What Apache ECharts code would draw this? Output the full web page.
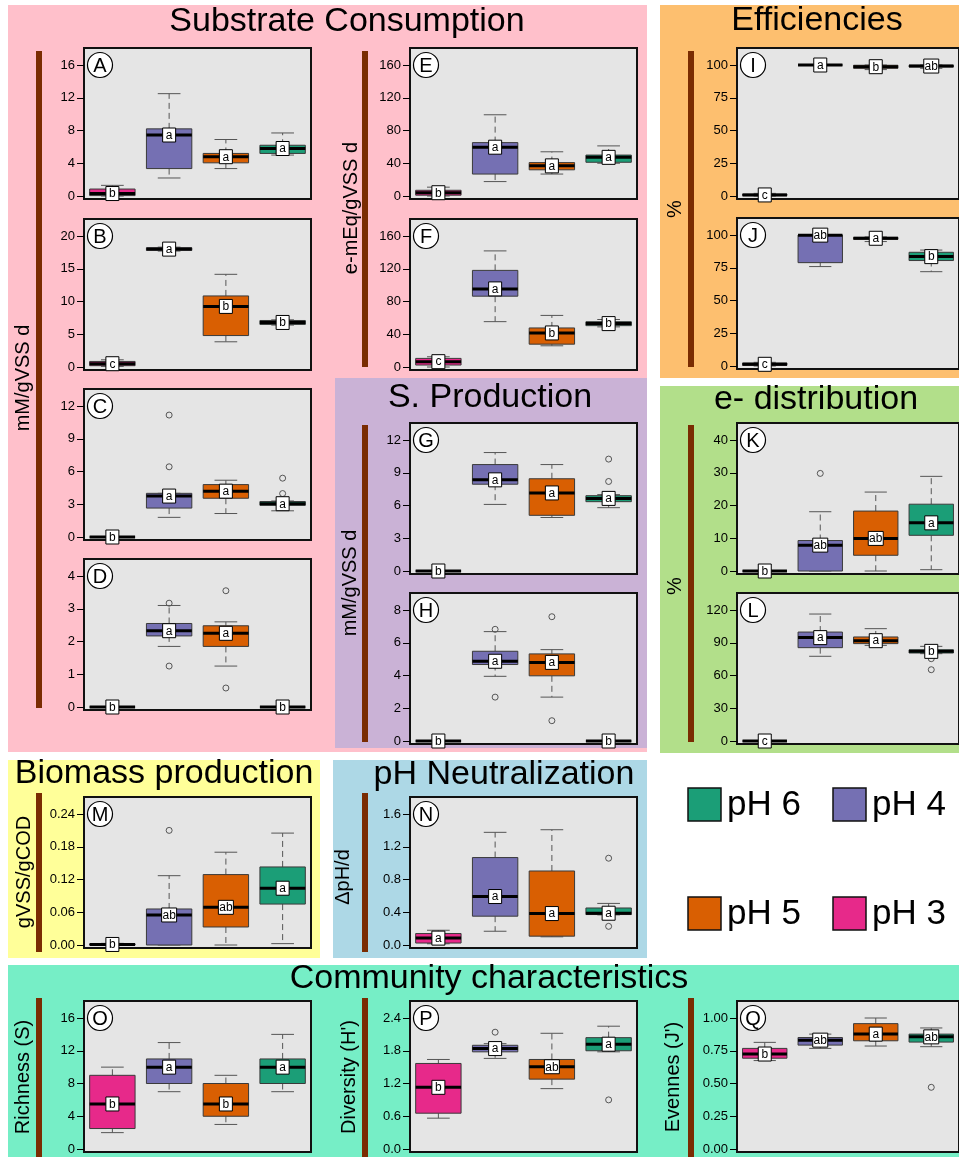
<!DOCTYPE html>
<html>
<head>
<meta charset="utf-8">
<script src="https://cdn.jsdelivr.net/npm/echarts@6/dist/echarts.min.js"></script>
<style>
  html, body { margin: 0; padding: 0; background: #fff; }
  #chart { width: 959px; height: 1157px; }
</style>
</head>
<body>
<div id="chart"></div>
<script>
// Treatment groups, left to right in every panel
const groups = ['pH 3', 'pH 4', 'pH 5', 'pH 6'];
const groupColors = ['#E7298A', '#7570B3', '#D95F02', '#1B9E77'];

// Box statistics per group: [lower whisker, Q1, median, Q3, upper whisker]
// Outliers: [group index, value]; letters: post-hoc grouping shown on each box

// A — substrate consumption
const boxA = [[0, 0.05, 0.3, 0.85, 1.3], [2.2, 3.35, 7.45, 8.2, 12.5], [3.35, 4.05, 4.8, 5.2, 6.9], [5.0, 5.2, 5.8, 6.2, 7.7]];
const lettersA = ['b', 'a', 'a', 'a'];
const outA = [];
const ticksA = ['0', '4', '8', '12', '16'];

// B
const boxB = [[0.1, 0.2, 0.5, 0.85, 1.1], [17.7, 17.8, 18.0, 18.2, 18.3], [3.85, 4.8, 9.25, 10.85, 14.15], [6.4, 6.5, 6.8, 7.1, 7.2]];
const lettersB = ['c', 'a', 'b', 'b'];
const outB = [];
const ticksB = ['0', '5', '10', '15', '20'];

// C
const boxC = [[0, 0, 0, 0, 0], [1.8, 2.65, 3.75, 4.0, 4.0], [2.15, 3.55, 4.2, 4.8, 5.2], [2.4, 2.9, 3.05, 3.25, 3.3]];
const lettersC = ['b', 'a', 'a', 'a'];
const outC = [[1, 6.43], [1, 11.17], [3, 3.98], [3, 5.39]];
const ticksC = ['0', '3', '6', '9', '12'];

// D
const boxD = [[0, 0, 0, 0, 0], [1.85, 2.17, 2.33, 2.55, 3.1], [1.25, 1.85, 2.25, 2.48, 2.6], [0, 0, 0, 0, 0]];
const lettersD = ['b', 'a', 'a', 'b'];
const outD = [[1, 3.17], [1, 1.25], [2, 3.55], [2, 0.58]];
const ticksD = ['0', '1', '2', '3', '4'];

// E
const boxE = [[0, 1, 4, 7, 10.8], [17.6, 26.8, 59.6, 65.2, 99.2], [26.8, 32, 36.8, 40.8, 54], [40, 41.2, 47.2, 50, 61.2]];
const lettersE = ['b', 'a', 'a', 'a'];
const outE = [];
const ticksE = ['0', '40', '80', '120', '160'];

// F
const boxF = [[0, 2.4, 6.5, 10.5, 12.5], [55.4, 86.5, 95.4, 118, 141.8], [25.9, 27.9, 41.6, 47.7, 63], [49, 50.5, 53, 55.3, 58]];
const lettersF = ['c', 'a', 'b', 'b'];
const outF = [];
const ticksF = ['0', '40', '80', '120', '160'];

// G — S. production
const boxG = [[0, 0, 0, 0, 0], [6.1, 7.95, 8.35, 9.75, 10.85], [4.9, 5.1, 7.15, 8.45, 9.75], [5.8, 6.35, 6.65, 6.9, 7.0]];
const lettersG = ['b', 'a', 'a', 'a'];
const outG = [[3, 8.2], [3, 10.25]];
const ticksG = ['0', '3', '6', '9', '12'];

// H
const boxH = [[0, 0, 0, 0, 0], [3.95, 4.67, 4.87, 5.48, 6.68], [2.68, 3.98, 4.8, 5.32, 5.58], [0, 0, 0, 0, 0]];
const lettersH = ['b', 'a', 'a', 'b'];
const outH = [[1, 6.82], [1, 2.68], [2, 7.59], [2, 1.24]];
const ticksH = ['0', '2', '4', '6', '8'];

// I — efficiencies
const boxI = [[0, 0.3, 0.8, 1.5, 2], [100, 100, 100, 100, 100], [96.5, 97.5, 98.7, 99.8, 100], [97.5, 98.5, 99.2, 99.8, 100]];
const lettersI = ['c', 'a', 'b', 'ab'];
const outI = [];
const ticksI = ['0', '25', '50', '75', '100'];

// J
const boxJ = [[0, 0.5, 1.3, 2.3, 2.8], [75.9, 78.9, 99.9, 100, 100], [95, 96.7, 97.5, 98.2, 98.5], [72, 80.5, 83.5, 86.8, 88.5]];
const lettersJ = ['c', 'ab', 'a', 'b'];
const outJ = [];
const ticksJ = ['0', '25', '50', '75', '100'];

// K — e- distribution
const boxK = [[0, 0, 0, 0, 0], [0, 0, 7.9, 9.3, 18.1], [0, 4.8, 9.95, 18.3, 24.1], [0.4, 10.9, 14.7, 20.4, 28.9]];
const lettersK = ['b', 'ab', 'ab', 'a'];
const outK = [[1, 29.8]];
const ticksK = ['0', '10', '20', '30', '40'];

// L
const boxL = [[0, 0, 0, 0, 0], [77.6, 85.5, 94.7, 99.8, 116.3], [87.6, 89.2, 91.9, 95.3, 102.9], [80, 80.6, 82.1, 83.5, 86.7]];
const lettersL = ['c', 'a', 'a', 'b'];
const outL = [[3, 75.4], [3, 65.3]];
const ticksL = ['0', '30', '60', '90', '120'];

// M — biomass production
const boxM = [[0, 0, 0.001, 0.002, 0.003], [0, 0, 0.055, 0.066, 0.127], [0, 0.033, 0.069, 0.129, 0.17], [0.0025, 0.075, 0.104, 0.143, 0.205]];
const lettersM = ['b', 'ab', 'ab', 'a'];
const outM = [[1, 0.21]];
const ticksM = ['0.00', '0.06', '0.12', '0.18', '0.24'];

// N — pH neutralization
const boxN = [[0.015, 0.024, 0.084, 0.14, 0.18], [0.168, 0.352, 0.592, 1.068, 1.376], [0.1, 0.108, 0.384, 0.904, 1.408], [0.368, 0.372, 0.388, 0.452, 0.508]];
const lettersN = ['a', 'a', 'a', 'a'];
const outN = [[3, 1.06], [3, 0.228]];
const ticksN = ['0.0', '0.4', '0.8', '1.2', '1.6'];

// O — community richness
const boxO = [[2, 2.5, 5.5, 9, 10], [7, 8, 10, 11, 13], [3, 4, 5.5, 8, 9], [7, 8, 10, 11, 14]];
const lettersO = ['b', 'a', 'b', 'a'];
const outO = [];
const ticksO = ['0', '4', '8', '12', '16'];

// P — diversity
const boxP = [[0.565, 0.656, 1.13, 1.567, 1.64], [1.66, 1.78, 1.84, 1.9, 1.93], [1.106, 1.28, 1.507, 1.64, 2.12], [1.78, 1.8, 1.92, 2.04, 2.25]];
const lettersP = ['b', 'a', 'ab', 'a'];
const outP = [[1, 2.14], [3, 0.9]];
const ticksP = ['0.0', '0.6', '1.2', '1.8', '2.4'];

// Q — evenness
const boxQ = [[0.675, 0.693, 0.725, 0.768, 0.814], [0.768, 0.793, 0.831, 0.851, 0.877], [0.786, 0.826, 0.877, 0.957, 1.0], [0.781, 0.816, 0.856, 0.877, 0.924]];
const lettersQ = ['b', 'ab', 'a', 'ab'];
const outQ = [[3, 0.471]];
const ticksQ = ['0.00', '0.25', '0.50', '0.75', '1.00'];

const FONT = '"Liberation Sans", Arial, Helvetica, sans-serif';
const PW = 227, PH = 151;

const panels = [
  { id: 'A', box: boxA, letters: lettersA, out: outA, ticks: ticksA, left: 84, top: 48 },
  { id: 'B', box: boxB, letters: lettersB, out: outB, ticks: ticksB, left: 84, top: 219 },
  { id: 'C', box: boxC, letters: lettersC, out: outC, ticks: ticksC, left: 84, top: 389 },
  { id: 'D', box: boxD, letters: lettersD, out: outD, ticks: ticksD, left: 84, top: 559 },
  { id: 'E', box: boxE, letters: lettersE, out: outE, ticks: ticksE, left: 410, top: 48 },
  { id: 'F', box: boxF, letters: lettersF, out: outF, ticks: ticksF, left: 410, top: 219 },
  { id: 'G', box: boxG, letters: lettersG, out: outG, ticks: ticksG, left: 410, top: 423 },
  { id: 'H', box: boxH, letters: lettersH, out: outH, ticks: ticksH, left: 410, top: 593 },
  { id: 'I', box: boxI, letters: lettersI, out: outI, ticks: ticksI, left: 737, top: 48 },
  { id: 'J', box: boxJ, letters: lettersJ, out: outJ, ticks: ticksJ, left: 737, top: 218 },
  { id: 'K', box: boxK, letters: lettersK, out: outK, ticks: ticksK, left: 737, top: 423 },
  { id: 'L', box: boxL, letters: lettersL, out: outL, ticks: ticksL, left: 737, top: 593 },
  { id: 'M', box: boxM, letters: lettersM, out: outM, ticks: ticksM, left: 84, top: 797 },
  { id: 'N', box: boxN, letters: lettersN, out: outN, ticks: ticksN, left: 410, top: 797 },
  { id: 'O', box: boxO, letters: lettersO, out: outO, ticks: ticksO, left: 84, top: 1001 },
  { id: 'P', box: boxP, letters: lettersP, out: outP, ticks: ticksP, left: 410, top: 1001 },
  { id: 'Q', box: boxQ, letters: lettersQ, out: outQ, ticks: ticksQ, left: 737, top: 1001 }
];

// Box-and-whisker glyph: dashed whiskers, solid staples, filled box, thick median, boxed letter
function makeBoxRenderer(letters) {
  return function (params, api) {
    const k = api.value(0);
    const yMin = api.coord([k, api.value(1)])[1];
    const yQ1 = api.coord([k, api.value(2)])[1];
    const yMed = api.coord([k, api.value(3)]);
    const yQ3 = api.coord([k, api.value(4)])[1];
    const yMax = api.coord([k, api.value(5)])[1];
    const cx = yMed[0];
    const bw = api.size([1, 0])[0] * 0.8;
    const sw = bw / 4;
    const letter = letters[params.dataIndex];
    const lw = letter.length > 1 ? 15 : 13;
    const wStyle = { stroke: '#555', lineWidth: 1, lineDash: [6, 4] };
    const sStyle = { stroke: '#555', lineWidth: 1 };
    return {
      type: 'group',
      children: [
        { type: 'line', shape: { x1: cx, y1: yQ3, x2: cx, y2: yMax }, style: wStyle },
        { type: 'line', shape: { x1: cx, y1: yQ1, x2: cx, y2: yMin }, style: wStyle },
        { type: 'line', shape: { x1: cx - sw, y1: yMax, x2: cx + sw, y2: yMax }, style: sStyle },
        { type: 'line', shape: { x1: cx - sw, y1: yMin, x2: cx + sw, y2: yMin }, style: sStyle },
        { type: 'rect', shape: { x: cx - bw / 2, y: yQ3, width: bw, height: yQ1 - yQ3 },
          style: { fill: groupColors[k], stroke: '#3a3a3a', lineWidth: 1 } },
        { type: 'line', shape: { x1: cx - bw / 2, y1: yMed[1], x2: cx + bw / 2, y2: yMed[1] },
          style: { stroke: '#000', lineWidth: 3 } },
        { type: 'rect', shape: { x: cx - lw / 2, y: yMed[1] - 7, width: lw, height: 14 },
          style: { fill: '#fff', stroke: '#000', lineWidth: 1 } },
        { type: 'text', x: cx, y: yMed[1] + 0.5,
          style: { text: letter, font: '12px ' + FONT, fill: '#000', align: 'center', verticalAlign: 'middle',
                   textAlign: 'center', textVerticalAlign: 'middle' } }
      ]
    };
  };
}

const grids = [], xAxes = [], yAxes = [], series = [];
panels.forEach(function (p, i) {
  const vals = p.ticks.map(Number);
  const T = vals[vals.length - 1];
  grids.push({ left: p.left, top: p.top, width: PW, height: PH, show: true,
               backgroundColor: '#E5E5E5', borderColor: '#111', borderWidth: 2 });
  xAxes.push({ type: 'category', gridIndex: i, data: groups, boundaryGap: true, show: false });
  yAxes.push({
    type: 'value', gridIndex: i,
    min: -3 * T / 131, max: T + 17 * T / 131,
    axisLine: { show: false }, splitLine: { show: false },
    axisTick: { show: true, length: 7, customValues: vals, lineStyle: { color: '#000', width: 1 } },
    axisLabel: {
      customValues: vals, margin: 9, color: '#000', fontSize: 13, fontFamily: FONT,
      formatter: function (v) {
        let best = 0;
        vals.forEach(function (t, j) { if (Math.abs(t - v) < Math.abs(vals[best] - v)) best = j; });
        return p.ticks[best];
      }
    }
  });
  series.push({
    type: 'scatter', xAxisIndex: i, yAxisIndex: i, data: p.out, symbol: 'circle', symbolSize: 6,
    itemStyle: { color: 'rgba(0,0,0,0)', borderColor: '#333', borderWidth: 1 }, z: 2, silent: true
  });
  series.push({
    type: 'custom', xAxisIndex: i, yAxisIndex: i,
    data: p.box.map(function (b, k) { return [k].concat(b); }),
    encode: { x: 0, y: [1, 2, 3, 4, 5] },
    renderItem: makeBoxRenderer(p.letters), z: 3, silent: true
  });
});

// Section backgrounds
const sections = [
  { x: 8, y: 5, w: 639, h: 747, c: '#FFC0CB' },
  { x: 335, y: 378, w: 312, h: 370, c: '#CAB2D6' },
  { x: 660, y: 5, w: 299, h: 373, c: '#FDBF6F' },
  { x: 660, y: 386, w: 299, h: 367, c: '#B2DF8A' },
  { x: 8, y: 760, w: 312, h: 198, c: '#FFFF99' },
  { x: 333, y: 760, w: 314, h: 198, c: '#ADD8E6' },
  { x: 8, y: 965, w: 951, h: 192, c: '#76EEC6' }
];
const titles = [
  { t: 'Substrate Consumption', x: 347, y: 22 },
  { t: 'Efficiencies', x: 817, y: 21 },
  { t: 'S. Production', x: 490, y: 398 },
  { t: 'e- distribution', x: 816, y: 400 },
  { t: 'Biomass production', x: 164, y: 774 },
  { t: 'pH Neutralization', x: 504, y: 775 },
  { t: 'Community characteristics', x: 489, y: 979 }
];
const bars = [
  [36, 51, 708], [362, 51, 367], [362, 425, 742], [688, 51, 367], [688, 425, 742],
  [36, 793, 952], [362, 793, 952], [36, 998, 1157], [362, 998, 1157], [688, 998, 1157]
];
const yNames = [
  { t: 'mM/gVSS d', x: 23, y: 378 },
  { t: 'e-mEq/gVSS d', x: 351, y: 208 },
  { t: '%', x: 675, y: 209 },
  { t: 'mM/gVSS d', x: 350, y: 583 },
  { t: '%', x: 675, y: 586 },
  { t: 'gVSS/gCOD', x: 24, y: 872 },
  { t: 'ΔpH/d', x: 343, y: 877 },
  { t: 'Richness (S)', x: 23, y: 1077 },
  { t: "Diversity (H')", x: 349, y: 1077 },
  { t: "Evennes (J')", x: 673, y: 1077 }
];
const legendItems = [
  { k: 3, x: 688, y: 788 }, { k: 1, x: 833, y: 788 },
  { k: 2, x: 688, y: 897 }, { k: 0, x: 833, y: 897 }
];

function textEl(t, x, y, size, rot) {
  return {
    type: 'text', x: x, y: y, rotation: rot || 0, z: 10,
    style: { text: t, font: size + 'px ' + FONT, fill: '#000', align: 'center', verticalAlign: 'middle',
             textAlign: 'center', textVerticalAlign: 'middle' }
  };
}

const graphics = [];
sections.forEach(function (s) {
  graphics.push({ type: 'rect', z: -10, shape: { x: s.x, y: s.y, width: s.w, height: s.h }, style: { fill: s.c } });
});
titles.forEach(function (t) { graphics.push(textEl(t.t, t.x, t.y, 34)); });
bars.forEach(function (b) {
  graphics.push({ type: 'rect', z: 5, shape: { x: b[0], y: b[1], width: 6, height: b[2] - b[1] }, style: { fill: '#7A2C02' } });
});
yNames.forEach(function (n) { graphics.push(textEl(n.t, n.x, n.y, 20, Math.PI / 2)); });
panels.forEach(function (p) {
  graphics.push({ type: 'circle', z: 20, shape: { cx: p.left + 16, cy: p.top + 17, r: 12.5 },
                  style: { fill: '#fff', stroke: '#000', lineWidth: 1.2 } });
  const el = textEl(p.id, p.left + 16, p.top + 18, 20);
  el.z = 21;
  graphics.push(el);
});
legendItems.forEach(function (l) {
  graphics.push({ type: 'rect', z: 10, shape: { x: l.x, y: l.y, width: 33, height: 33 },
                  style: { fill: groupColors[l.k], stroke: '#111', lineWidth: 1.5 } });
  graphics.push({
    type: 'text', x: l.x + 39, y: l.y + 17, z: 10,
    style: { text: groups[l.k], font: '35px ' + FONT, fill: '#000', align: 'left', verticalAlign: 'middle',
             textAlign: 'left', textVerticalAlign: 'middle' }
  });
});

const chart = echarts.init(document.getElementById('chart'), null, { renderer: 'canvas' });
chart.setOption({
  backgroundColor: '#fff',
  animation: false,
  textStyle: { fontFamily: FONT },
  grid: grids,
  xAxis: xAxes,
  yAxis: yAxes,
  series: series,
  graphic: { elements: graphics }
});
</script>
</body>
</html>
